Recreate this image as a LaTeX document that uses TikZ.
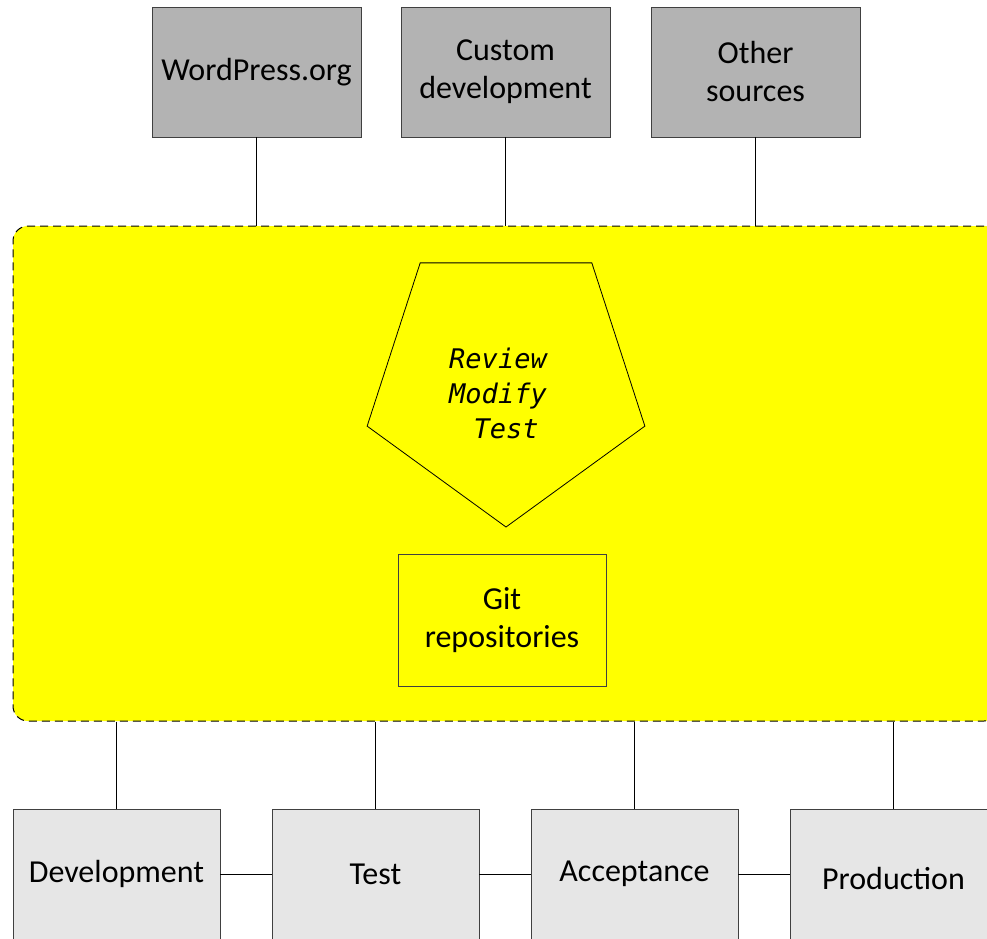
\documentclass[tikz,border=0pt]{standalone}
\usepackage{fontspec}
\setmainfont{Carlito}
\newfontfamily\reviewfont{DejaVu Sans Mono}
\usetikzlibrary{shapes.geometric}
\definecolor{srcgray}{HTML}{B3B3B3}
\definecolor{envgray}{HTML}{E6E6E6}
\definecolor{zoneyellow}{HTML}{FFFF00}
\definecolor{edgegray}{HTML}{404040}
\begin{document}
\begin{tikzpicture}[x=1pt,y=-1pt,
  every node/.style={inner sep=0pt,font=\fontsize{32}{38}\selectfont},
  srcbox/.style={draw=edgegray,fill=srcgray,minimum width=209pt,minimum height=130pt,align=center},
  envbox/.style={draw=edgegray,fill=envgray,minimum width=207pt,minimum height=130pt,align=center},
  link/.style={draw=black,line width=0.8pt}]
\clip (0,0) rectangle (987,938);
\fill [white] (0,0) rectangle (987,938);
% the yellow work area
\node [draw=black,line width=1pt,fill=zoneyellow,dash pattern=on 8pt off 5pt,rounded corners=15pt,
  minimum width=986pt,minimum height=495pt] (zone) at (506,473.5) {};
\node [draw=black,line width=0.8pt,regular polygon,regular polygon sides=5,
  shape border rotate=180,minimum size=292pt] (cycle) at (506,381) {};
\node [align=center,font=\reviewfont\itshape\fontsize{27}{35}\selectfont] (steps) at (498,393) {Review\\Modify\\\ Test};
\node [draw=edgegray,fill=zoneyellow,minimum width=208pt,minimum height=132pt,align=center] (git) at (502,620) {Git\\repositories};
% sources
\node [srcbox] (wp) at (256.5,72) {WordPress.org};
\node [srcbox] (custom) at (505.5,72) {Custom\\development};
\node [srcbox] (other) at (755.5,72) {Other\\sources};
\draw [link] (wp) -- (wp |- zone.north);
\draw [link] (custom) -- (custom |- zone.north);
\draw [link] (other) -- (other |- zone.north);
% environments
\node [envbox] (dev) at (116.5,874) {Development};
\node [envbox] (test) at (375.5,874) {Test};
\node [envbox] (acc) at (634.5,874) {Acceptance};
\node [envbox,minimum height=138pt] (prod) at (893.5,878) {Production};
\draw [link] (dev |- zone.south) -- (dev);
\draw [link] (test |- zone.south) -- (test);
\draw [link] (acc |- zone.south) -- (acc);
\draw [link] (prod |- zone.south) -- (prod);
\draw [link] (dev) -- (test);
\draw [link] (test) -- (acc);
\draw [link] (acc.east) -- (acc.east -| prod.west);
\end{tikzpicture}
\end{document}
